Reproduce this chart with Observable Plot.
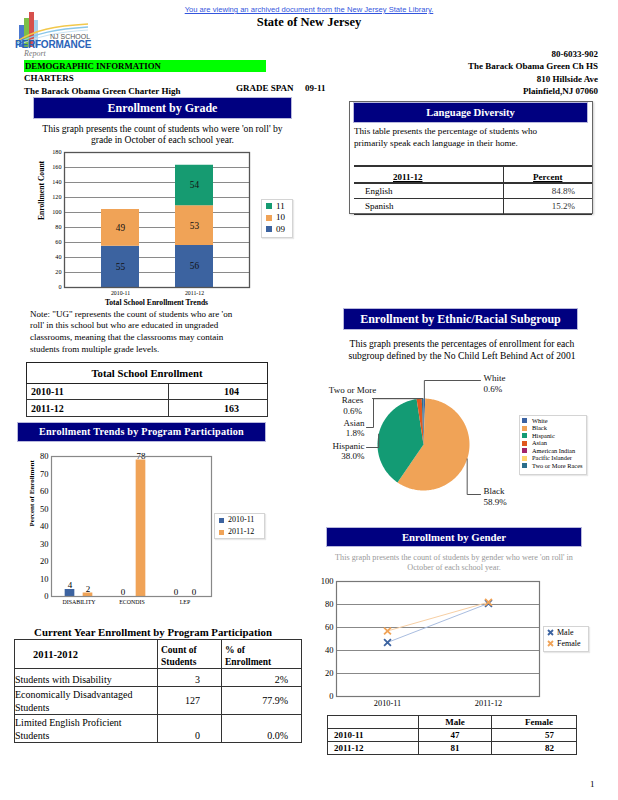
<!DOCTYPE html>
<html><head><meta charset="utf-8">
<script src="https://cdn.jsdelivr.net/npm/d3@7"></script>
<script src="https://cdn.jsdelivr.net/npm/@observablehq/plot@0.6"></script>
<style>
*{box-sizing:border-box}
body{margin:0;background:#fff;font-family:"Liberation Serif","Times New Roman",serif;color:#000}
#page{position:relative;width:618px;height:800px;overflow:hidden}
.a{position:absolute;white-space:nowrap;line-height:1}
.b{font-weight:bold}
.bar{position:absolute;background:#000080;color:#fff;font-weight:bold;text-align:center;box-shadow:0 0 0 1px #b8b8dc;white-space:nowrap}
.lg{position:absolute;border:1px solid #d4d4d4;box-shadow:1px 1px 1px #e8e8e8;background:#fff}
.lgi{position:absolute;white-space:nowrap;line-height:1}
.sw{position:absolute}
table{position:absolute;border-collapse:collapse;table-layout:fixed}
td,th{padding:0;overflow:hidden;white-space:nowrap}
.chart{position:absolute}
.chart svg{overflow:visible}
</style></head>
<body><div id="page">

<!-- header -->
<div class="a" style="left:0;width:618px;text-align:center;top:6px;font-family:'Liberation Sans',Arial,sans-serif;font-size:7.6px;color:#3355dd;text-decoration:underline">You are viewing an archived document from the New Jersey State Library.</div>
<div class="a b" style="left:0;width:618px;text-align:center;top:16px;font-size:12.5px">State of New Jersey</div>

<div class="a" style="left:14px;top:11px;width:76px;height:50px">
  <div style="position:absolute;left:5px;top:14px;width:5px;height:22px;background:#4a78cf"></div>
  <div style="position:absolute;left:10px;top:7px;width:5px;height:29px;background:#7dbf48"></div>
  <div style="position:absolute;left:15px;top:1px;width:5px;height:35px;background:#d6504c"></div>
  <div style="position:absolute;left:20px;top:9px;width:4px;height:27px;background:#a8d2ee"></div>
  <svg style="position:absolute;left:0;top:0" width="76" height="40"><path d="M2,31 C20,19 40,15 74,13" fill="none" stroke="#f2c84b" stroke-width="1.5"/><path d="M2,33 C22,22 42,18 74,16" fill="none" stroke="#8ac6e8" stroke-width="1.5"/><path d="M2,35 C24,25 44,21 74,19" fill="none" stroke="#c9e3f3" stroke-width="1"/></svg>
  <div class="a" style="left:36px;top:22px;font-family:'Liberation Sans',Arial,sans-serif;font-size:7px;color:#555">NJ SCHOOL</div>
  <div class="a" style="left:1px;top:29px;font-family:'Liberation Sans',Arial,sans-serif;font-size:10px;font-weight:bold;color:#2a63b8;letter-spacing:-0.2px">PERFORMANCE</div>
  <div class="a" style="left:10px;top:39px;font-family:'Liberation Serif',serif;font-style:italic;font-size:8px;color:#777">Report</div>
</div>

<div class="a b" style="right:20px;top:49.5px;font-size:9px">80-6033-902</div>
<div class="a b" style="left:24px;top:60px;width:242px;height:12px;background:#00ff00;font-size:8.8px;line-height:12px;padding-left:1px">DEMOGRAPHIC INFORMATION</div>
<div class="a b" style="right:20px;top:61.5px;font-size:9px">The Barack Obama Green Ch HS</div>
<div class="a b" style="left:24px;top:74px;font-size:9px">CHARTERS</div>
<div class="a b" style="right:20px;top:74.5px;font-size:9px">810 Hillside Ave</div>
<div class="a b" style="left:24px;top:86.5px;font-size:9px">The Barack Obama Green Charter High</div>
<div class="a b" style="left:236px;top:83.5px;font-size:9px">GRADE SPAN</div>
<div class="a b" style="left:305px;top:83.5px;font-size:9px">09-11</div>
<div class="a b" style="right:20px;top:86.5px;font-size:9px">Plainfield,NJ 07060</div>

<!-- enrollment by grade -->
<div class="bar" style="left:34px;top:98px;width:257px;height:20px;line-height:20px;font-size:12px">Enrollment by Grade</div>
<div class="a" style="left:34px;top:122.5px;width:257px;text-align:center;font-size:9.6px;line-height:11px">This graph presents the count of students who were 'on roll' by<br>grade in October of each school year.</div>
<div class="chart" id="gradeChart" style="left:20px;top:146px"></div>
<div class="lg" style="left:261px;top:199px;width:32px;height:39px"></div>
<div id="gradeLegend"></div>
<div class="a b" style="left:64px;width:185px;text-align:center;top:299px;font-size:7.6px">Total School Enrollment Trends</div>
<div class="a" style="left:30px;top:308.5px;width:260px;white-space:normal;font-size:9px;line-height:11.7px">Note: "UG" represents the count of students who are 'on<br>roll' in this school but who are educated in ungraded<br>classrooms, meaning that the classrooms may contain<br>students from multiple grade levels.</div>
<table id="totalTable" style="left:26px;top:362px;width:241px;border:1.5px solid #222"></table>

<!-- program participation -->
<div class="bar" style="left:18px;top:423px;width:247px;height:18px;line-height:18px;font-size:10.2px;letter-spacing:0.2px">Enrollment Trends by Program Participation</div>
<div class="chart" id="progChart" style="left:14px;top:446px"></div>
<div class="lg" style="left:214px;top:513px;width:51px;height:26px"></div>
<div id="progLegend"></div>

<div class="a b" style="left:0;width:306px;text-align:center;top:626.5px;font-size:10.8px">Current Year Enrollment by Program Participation</div>
<table id="curTable" style="left:14px;top:639px;width:287px;border:1.5px solid #222"></table>

<!-- language diversity -->
<div style="position:absolute;left:349px;top:101px;width:244px;height:113px;border:1px solid #666;box-shadow:1px 1px 2px #ccc"></div>
<div class="bar" style="left:354px;top:103px;width:233px;height:19px;line-height:19px;font-size:10.6px">Language Diversity</div>
<div class="a" style="left:354px;top:124.5px;font-size:9.1px;line-height:12.5px">This table presents the percentage of students who<br>primarily speak each language in their home.</div>
<table id="langTable" style="left:354px;top:165px;width:238px;border-top:2px solid #333"></table>

<!-- ethnic -->
<div class="bar" style="left:344px;top:309px;width:233px;height:20px;line-height:20px;font-size:12px">Enrollment by Ethnic/Racial Subgroup</div>
<div class="a" style="left:344px;top:338px;width:236px;text-align:center;font-size:9.6px;line-height:11.5px">This graph presents the percentages of enrollment for each<br>subgroup defined by the No Child Left Behind Act of 2001</div>
<div class="chart" id="pieChart" style="left:320px;top:366px"></div>
<div class="lg" style="left:519px;top:415px;width:68px;height:60px"></div>
<div id="pieLegend"></div>

<!-- gender -->
<div class="bar" style="left:327px;top:528px;width:254px;height:18px;line-height:18px;font-size:10.8px">Enrollment by Gender</div>
<div class="a" style="left:327px;top:552.5px;width:254px;text-align:center;font-size:8.2px;line-height:10.5px;color:#999">This graph presents the count of students by gender who were 'on roll' in<br>October of each school year.</div>
<div class="chart" id="genderChart" style="left:316px;top:574px"></div>
<div class="lg" style="left:543px;top:626px;width:46px;height:26px"></div>
<div id="genderLegend"></div>
<table id="genderTable" style="left:327px;top:715px;width:249px;border:1.5px solid #222"></table>

<div class="a" style="left:590px;top:780px;font-size:9px">1</div>
</div>

<script>
// ---------- data ----------
const gradeYears = ["2010-11", "2011-12"];
const gradeLevels = ["09", "10", "11"];
const grade09 = [55, 56];
const grade10 = [49, 53];
const grade11 = [0, 54];
const gradeColors = ["#3c63a0", "#f0a357", "#169b71"];

const totalYears = ["2010-11", "2011-12"];
const totalCounts = [104, 163];

const programCats = ["DISABILITY", "ECONDIS", "LEP"];
const programYears = ["2010-11", "2011-12"];
const program2010 = [4, 0, 0];
const program2011 = [2, 78, 0];

const currentYear = "2011-2012";
const currentRows = ["Students with Disability", "Economically Disadvantaged<br>Students", "Limited English Proficient<br>Students"];
const currentCounts = [3, 127, 0];
const currentPct = ["2%", "77.9%", "0.0%"];

const langYear = "2011-12";
const langNames = ["English", "Spanish"];
const langPct = ["84.8%", "15.2%"];

const ethnicGroups = ["White", "Black", "Hispanic", "Asian", "American Indian", "Pacific Islander", "Two or More Races"];
const ethnicPct = [0.6, 58.9, 38.0, 1.8, 0, 0, 0.6];
const ethnicColors = ["#3a62a2", "#f0a357", "#139b74", "#e0581f", "#a2246a", "#fed46c", "#2b6e8b"];

const genderYears = ["2010-11", "2011-12"];
const genderMale = [47, 81];
const genderFemale = [57, 82];

const serif = "'Liberation Serif','Times New Roman',serif";

// ---------- grade chart ----------
const gradeSeries = [grade09, grade10, grade11];
const gradeData = gradeYears.flatMap((y, i) => gradeLevels.map((g, k) => ({year: y, grade: g, count: gradeSeries[k][i]}))).filter(d => d.count > 0);
document.getElementById("gradeChart").append(Plot.plot({
  width: 240, height: 152, marginLeft: 44, marginRight: 11, marginTop: 6, marginBottom: 11,
  style: {fontFamily: serif, background: "transparent", color: "#000"},
  x: {domain: gradeYears, padding: 0.49},
  y: {domain: [0, 180]},
  color: {domain: gradeLevels, range: gradeColors},
  marks: [
    Plot.gridY(d3.range(20, 180, 20), {stroke: "#8a8a8a", strokeOpacity: 1}),
    Plot.barY(gradeData, {x: "year", y: "count", fill: "grade"}),
    Plot.text(gradeData, Plot.stackY({x: "year", y: "count", text: d => String(d.count), fontSize: 9.3, fill: "#111"})),
    Plot.frame({stroke: "#555", strokeWidth: 1.3}),
    Plot.axisY({ticks: d3.range(0, 181, 20), tickSize: 0, tickPadding: 3, fontSize: 6.2, label: null}),
    Plot.axisX({tickSize: 0, tickPadding: 3, fontSize: 5.8, label: null}),
    Plot.text(["Enrollment Count"], {frameAnchor: "left", dx: -23, rotate: -90, fontWeight: "bold", fontSize: 7.6})
  ]
}));
const gl = document.getElementById("gradeLegend");
[...gradeLevels].reverse().forEach((g, k) => {
  const y = 203 + k * 11.5;
  const c = gradeColors[gradeLevels.indexOf(g)];
  gl.insertAdjacentHTML("beforeend", `<div class="sw" style="left:266px;top:${y}px;width:6px;height:6px;background:${c}"></div><div class="lgi" style="left:276px;top:${y - 1.5}px;font-size:9px">${g}</div>`);
});

// ---------- total table ----------
document.getElementById("totalTable").innerHTML =
  `<colgroup><col style="width:142px"><col style="width:99px"></colgroup>` +
  `<tr style="height:21px"><th colspan="2" style="border:1.5px solid #222;font-size:10.7px">Total School Enrollment</th></tr>` +
  totalYears.map((y, i) => `<tr style="height:${i ? 17 : 16}px"><td style="border:1.5px solid #333;font-weight:bold;font-size:10px;padding-left:4px">${y}</td><td style="border:1.5px solid #333;font-weight:bold;font-size:10px;text-align:right;padding-right:28px">${totalCounts[i]}</td></tr>`).join("");

// ---------- program chart ----------
const progData = programYears.flatMap((y, k) => programCats.map((c, i) => ({year: y, cat: c, v: (k ? program2011 : program2010)[i]})));
const progColors = ["#3c63a0", "#f0a357"];
const inset = (160 / 3 - 10) / 2;
document.getElementById("progChart").append(Plot.plot({
  width: 200, height: 165, marginLeft: 37, marginRight: 3, marginTop: 10, marginBottom: 15,
  style: {fontFamily: serif, background: "transparent", color: "#000"},
  x: {domain: programCats, padding: 0},
  y: {domain: [0, 80]},
  marks: [
    Plot.barY(progData.filter(d => d.year === programYears[0]), {x: "cat", y: "v", fill: progColors[0], dx: -9, insetLeft: inset, insetRight: inset}),
    Plot.barY(progData.filter(d => d.year === programYears[1]), {x: "cat", y: "v", fill: progColors[1], dx: 9, insetLeft: inset, insetRight: inset}),
    Plot.text(progData.filter(d => d.year === programYears[0]), {x: "cat", y: "v", text: d => String(d.v), dx: -9, dy: -1.5, lineAnchor: "bottom", fontSize: 9}),
    Plot.text(progData.filter(d => d.year === programYears[1]), {x: "cat", y: "v", text: d => String(d.v), dx: 9, dy: -1.5, lineAnchor: "bottom", fontSize: 9}),
    Plot.frame({stroke: "#888", strokeWidth: 1.2}),
    Plot.axisY({ticks: d3.range(0, 81, 10), tickSize: 0, tickPadding: 3, fontSize: 8.5, label: null}),
    Plot.axisX({tickSize: 0, tickPadding: 3, fontSize: 5.9, label: null}),
    Plot.text(["Percent of Enrollment"], {frameAnchor: "left", dx: -20, rotate: -90, fontWeight: "bold", fontSize: 7})
  ]
}));
const pl = document.getElementById("progLegend");
programYears.forEach((y, k) => {
  const top = 517.5 + k * 12;
  pl.insertAdjacentHTML("beforeend", `<div class="sw" style="left:219px;top:${top}px;width:5px;height:5px;background:${progColors[k]}"></div><div class="lgi" style="left:228px;top:${top - 1.5}px;font-size:8px">${y}</div>`);
});

// ---------- current year table ----------
const bd = "border:1.5px solid #333";
document.getElementById("curTable").innerHTML =
  `<colgroup><col style="width:143px"><col style="width:64px"><col style="width:80px"></colgroup>` +
  `<tr style="height:29px"><th style="${bd};font-size:10.5px;text-align:left;padding-left:18px">${currentYear}</th><th style="${bd};font-size:9.5px;text-align:left;padding-left:3px;line-height:12px;vertical-align:bottom">Count of<br>Students</th><th style="${bd};font-size:9.5px;text-align:left;padding-left:3px;line-height:12px;vertical-align:bottom">% of<br>Enrollment</th></tr>` +
  currentRows.map((r, i) => `<tr style="height:${i ? 28 : 18}px"><td style="${bd};font-size:10px;line-height:13px;vertical-align:bottom">${r}</td><td style="${bd};font-size:10px;text-align:right;padding-right:21px;vertical-align:${i === 1 ? "middle" : "bottom"};padding-bottom:1px">${currentCounts[i]}</td><td style="${bd};font-size:10px;text-align:right;padding-right:13px;vertical-align:${i === 1 ? "middle" : "bottom"};padding-bottom:1px">${currentPct[i]}</td></tr>`).join("");

// ---------- language table ----------
const lb = "border-bottom:1.5px solid #333";
document.getElementById("langTable").innerHTML =
  `<colgroup><col style="width:149px"><col style="width:89px"></colgroup>` +
  `<tr style="height:17px"><th style="border-bottom:2px solid #333;border-right:1.5px solid #333;font-size:9px;text-align:left;padding-left:39px;vertical-align:bottom"><u>${langYear}</u></th><th style="border-bottom:2px solid #333;font-size:9px;vertical-align:bottom"><u>Percent</u></th></tr>` +
  langNames.map((n, i) => `<tr style="height:${i ? 16 : 15}px"><td style="${lb};border-right:1.5px solid #333;font-size:9px;padding-left:11px">${n}</td><td style="${lb};font-size:9px;text-align:right;padding-right:17px;color:#333">${langPct[i]}</td></tr>`).join("");

// ---------- pie chart ----------
const eData = ethnicGroups.map((g, i) => ({group: g, pct: ethnicPct[i]})).filter(d => d.pct > 0);
const arcs = d3.pie().sort(null).value(d => d.pct)(eData);
const cx = 103, cy = 78, R = 46;
const slicePts = arcs.flatMap(a => {
  const n = Math.max(2, Math.ceil((a.endAngle - a.startAngle) / 0.02));
  const pts = [{group: a.data.group, px: cx, py: cy}];
  for (let k = 0; k <= n; k++) {
    const t = a.startAngle + (a.endAngle - a.startAngle) * k / n;
    pts.push({group: a.data.group, px: cx + R * Math.sin(t), py: cy - R * Math.cos(t)});
  }
  return pts;
});
const mid = {};
arcs.forEach(a => { const t = (a.startAngle + a.endAngle) / 2; mid[a.data.group] = [cx + R * Math.sin(t), cy - R * Math.cos(t)]; });
// label layout (positions of the callouts around the pie)
const callouts = [
  {group: "White", lx: 163, ly: 16.5, anchor: "start", route: ([x, y]) => [[x, y], [x, 14], [160, 14]]},
  {group: "Black", lx: 163, ly: 129.5, anchor: "start", route: ([x, y]) => [[x, y], [x, 128], [160, 128]]},
  {group: "Hispanic", lx: 44, ly: 84, anchor: "end", route: ([x, y]) => [[x, y], [x, 81], [46, 81]]},
  {group: "Asian", lx: 44, ly: 61, anchor: "end", route: ([x, y]) => [[x, y], [53, y], [53, 61], [46, 61]]},
  {group: "Two or More Races", lx: 32, ly: 33.5, anchor: "middle", route: ([x, y]) => [[x, y], [52, y]]}
];
const leaderPts = callouts.flatMap(c => c.route(mid[c.group]).map(([px, py]) => ({group: c.group, px, py})));
const labelData = callouts.map(c => {
  const p = ethnicPct[ethnicGroups.indexOf(c.group)].toFixed(1) + "%";
  const name = c.group === "Two or More Races" ? "Two or More\nRaces" : c.group;
  return {...c, text: name + "\n" + p};
});
document.getElementById("pieChart").append(Plot.plot({
  width: 200, height: 144, margin: 0,
  style: {fontFamily: serif, background: "transparent", color: "#000"},
  x: {domain: [0, 200], range: [0, 200], axis: null},
  y: {domain: [0, 144], range: [0, 144], axis: null},
  color: {domain: ethnicGroups, range: ethnicColors},
  marks: [
    Plot.line(slicePts, {x: "px", y: "py", z: "group", fill: "group", stroke: "none"}),
    Plot.line(leaderPts, {x: "px", y: "py", z: "group", stroke: "#555", strokeWidth: 1}),
    ...["start", "middle", "end"].map(an => Plot.text(labelData.filter(d => d.anchor === an), {x: "lx", y: "ly", text: "text", textAnchor: an, lineAnchor: "middle", fontSize: 9, lineHeight: 1.2, fill: "#111"}))
  ]
}));
const el = document.getElementById("pieLegend");
ethnicGroups.forEach((g, k) => {
  const top = 418 + k * 7.55;
  el.insertAdjacentHTML("beforeend", `<div class="sw" style="left:522px;top:${top}px;width:5px;height:5px;background:${ethnicColors[k]}"></div><div class="lgi" style="left:532px;top:${top - 0.5}px;font-size:6.4px">${g}</div>`);
});

// ---------- gender chart ----------
const genderData = genderYears.flatMap((y, i) => [{year: y, sex: "Male", v: genderMale[i]}, {year: y, sex: "Female", v: genderFemale[i]}]);
const gColors = {Male: "#3c63a0", Female: "#f0a357"};
const gLine = {Male: "#a9bde0", Female: "#f7cfa4"};
document.getElementById("genderChart").append(Plot.plot({
  width: 230, height: 138, marginLeft: 20, marginRight: 7, marginTop: 7, marginBottom: 16,
  style: {fontFamily: serif, background: "transparent", color: "#000"},
  x: {type: "point", domain: genderYears, padding: 0.5},
  y: {domain: [0, 100]},
  marks: [
    Plot.gridY(d3.range(20, 100, 20), {stroke: "#888", strokeOpacity: 1}),
    Plot.line(genderData.filter(d => d.sex === "Female"), {x: "year", y: "v", stroke: gLine.Female, strokeWidth: 1}),
    Plot.line(genderData.filter(d => d.sex === "Male"), {x: "year", y: "v", stroke: gLine.Male, strokeWidth: 1}),
    Plot.dot(genderData.filter(d => d.sex === "Male"), {x: "year", y: "v", symbol: "times", r: 3.2, stroke: gColors.Male, strokeWidth: 1.8}),
    Plot.dot(genderData.filter(d => d.sex === "Female"), {x: "year", y: "v", symbol: "times", r: 3.2, stroke: gColors.Female, strokeWidth: 1.8}),
    Plot.frame({stroke: "#777", strokeWidth: 1.2}),
    Plot.axisY({ticks: d3.range(0, 101, 20), tickSize: 0, tickPadding: 3, fontSize: 8.5, label: null}),
    Plot.axisX({tickSize: 0, tickPadding: 4, fontSize: 8.3, label: null})
  ]
}));
const gdl = document.getElementById("genderLegend");
["Male", "Female"].forEach((s, k) => {
  const top = 629 + k * 11;
  gdl.insertAdjacentHTML("beforeend", `<svg class="sw" style="left:547px;top:${top}px" width="7" height="7"><path d="M1,1L6,6M6,1L1,6" stroke="${gColors[s]}" stroke-width="1.8"/></svg><div class="lgi" style="left:557px;top:${top - 0.5}px;font-size:8px">${s}</div>`);
});

// ---------- gender table ----------
document.getElementById("genderTable").innerHTML =
  `<colgroup><col style="width:91px"><col style="width:73px"><col style="width:85px"></colgroup>` +
  `<tr style="height:13px"><td style="${bd}"></td><th style="${bd};font-size:9px">Male</th><th style="${bd};font-size:9px;padding-left:10px">Female</th></tr>` +
  genderYears.map((y, i) => `<tr style="height:13px"><td style="${bd};font-weight:bold;font-size:9px;padding-left:6px">${y}</td><td style="${bd};font-weight:bold;font-size:9px;text-align:center">${genderMale[i]}</td><td style="${bd};font-weight:bold;font-size:9px;text-align:right;padding-right:22px">${genderFemale[i]}</td></tr>`).join("");
</script>
</body></html>
